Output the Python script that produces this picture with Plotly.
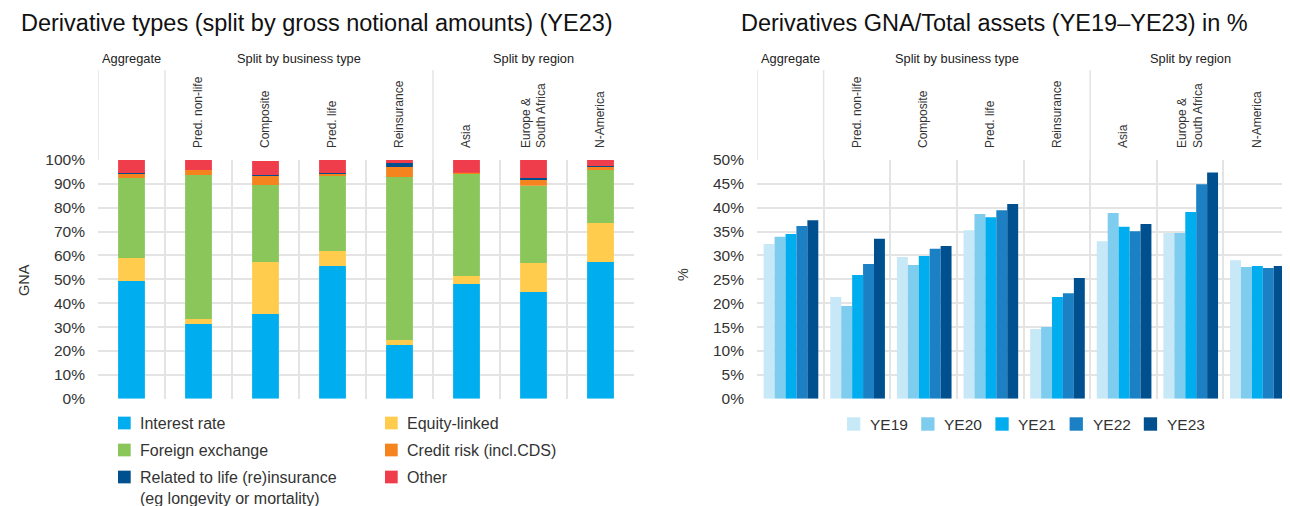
import plotly.graph_objects as go

# page body has an 8px margin: figure is placed at (8, 8) in the screenshot
OFF = 8
W, H = 1290 - OFF, 506 - OFF

# ---------------- data ----------------
categories = ["Aggregate", "Pred. non-life", "Composite", "Pred. life", "Reinsurance",
              "Asia", "Europe & South Africa", "N-America"]
tick_labels = ["", "Pred. non-life", "Composite", "Pred. life", "Reinsurance",
               "Asia", "Europe &<br>South Africa", "N-America"]

# Left chart: split of gross notional amounts (% of total), YE23
interest_rate = [49.3, 31.3, 35.5, 55.6, 22.5, 48.0, 44.7, 57.3]
equity_linked = [9.6, 2.1, 21.8, 6.3, 2.1, 3.4, 12.2, 16.3]
foreign_exchange = [33.6, 60.3, 32.2, 31.8, 68.3, 43.0, 32.3, 22.2]
credit_risk = [1.8, 2.1, 3.8, 0.6, 4.2, 0.3, 2.8, 1.3]
life_related = [0.3, 0.0, 0.4, 0.3, 1.6, 0.0, 0.5, 0.4]
other = [5.4, 4.2, 5.9, 5.4, 1.3, 5.3, 7.5, 2.5]

left_series_names = ["Interest rate", "Equity-linked", "Foreign exchange",
                     "Credit risk (incl.CDS)",
                     "Related to life (re)insurance<br>(eg longevity or mortality)",
                     "Other"]
left_series_values = [interest_rate, equity_linked, foreign_exchange, credit_risk,
                      life_related, other]
left_colors = ["#00AEEF", "#FFCC4E", "#8BC65B", "#F5841F", "#00508F", "#EF3D4B"]

# Right chart: derivatives GNA / total assets (%)
years = ["YE19", "YE20", "YE21", "YE22", "YE23"]
ye19 = [32.4, 21.3, 29.7, 35.3, 14.6, 33.0, 34.7, 29.0]
ye20 = [33.9, 19.4, 28.0, 38.7, 15.0, 38.9, 34.7, 27.6]
ye21 = [34.5, 25.9, 29.9, 38.0, 21.3, 36.0, 39.1, 27.8]
ye22 = [36.2, 28.2, 31.4, 39.5, 22.1, 35.1, 44.9, 27.4]
ye23 = [37.4, 33.5, 32.0, 40.8, 25.3, 36.6, 47.4, 27.8]
right_series_values = [ye19, ye20, ye21, ye22, ye23]
right_colors = ["#C6E8F7", "#7FCDEE", "#00AEEF", "#1B80C4", "#00508F"]

left_ticks = [0, 10, 20, 30, 40, 50, 60, 70, 80, 90, 100]
right_ticks = [0, 5, 10, 15, 20, 25, 30, 35, 40, 45, 50]

FONT = "Liberation Sans, Arial, Helvetica, sans-serif"
TXT = "#333333"
GRID = "#E4E4E4"


def px(x):
    """screen x (pixels) -> paper fraction"""
    return (x - OFF) / W


def py(y):
    """screen y (pixels) -> paper fraction"""
    return 1 - (y - OFF) / H


fig = go.Figure()

# left stacked bars (manual stacking via base)
base = [0.0] * len(categories)
for name, vals, col in zip(left_series_names, left_series_values, left_colors):
    fig.add_trace(go.Bar(x=categories, y=vals, base=list(base), name=name,
                         marker=dict(color=col, line=dict(width=0)),
                         width=0.40, xaxis="x", yaxis="y", showlegend=False))
    base = [b + v for b, v in zip(base, vals)]

# right grouped bars
bw = 0.164
for i, (name, vals, col) in enumerate(zip(years, right_series_values, right_colors)):
    fig.add_trace(go.Bar(x=categories, y=vals, name=name,
                         marker=dict(color=col, line=dict(width=0)),
                         width=bw, offset=-0.40 + i * bw,
                         xaxis="x2", yaxis="y2", showlegend=False))

plot_top, plot_bot = 160, 398.7
header_top = 70

xaxis_common = dict(type="category", categoryorder="array", categoryarray=categories,
                    tickmode="array", tickvals=categories, ticktext=tick_labels,
                    side="top", tickangle=-90, tickson="boundaries", ticks="",
                    showgrid=True, gridcolor=GRID, gridwidth=1.5, showline=False,
                    zeroline=False, tickfont=dict(family=FONT, size=12, color=TXT),
                    ticklabelstandoff=11, range=[-0.5, 7.5], fixedrange=True,
                    automargin=False)
yaxis_common = dict(showgrid=True, gridcolor=GRID, gridwidth=1.5, zeroline=False,
                    ticks="", ticklabelstandoff=12, automargin=False, fixedrange=True,
                    tickfont=dict(family=FONT, size=15.5, color=TXT))

fig.update_layout(
    width=W, height=H, margin=dict(l=0, r=0, t=0, b=0, pad=0, autoexpand=False),
    paper_bgcolor="white", plot_bgcolor="white", barmode="overlay",
    font=dict(family=FONT, color=TXT),
    xaxis=dict(domain=[px(98), px(634)], anchor="y", **xaxis_common),
    yaxis=dict(domain=[py(plot_bot), py(plot_top)], range=[0, 100], tickvals=left_ticks,
               ticktext=[f"{t}%" for t in left_ticks], anchor="x", **yaxis_common),
    xaxis2=dict(domain=[px(757), 1.0], anchor="y2", **xaxis_common),
    yaxis2=dict(domain=[py(plot_bot), py(plot_top)], range=[0, 50], tickvals=right_ticks,
                ticktext=[f"{t}%" for t in right_ticks], anchor="x2", **yaxis_common),
)

shapes = []
annotations = []

# header separator lines and group labels
for xref in ["x", "x2"]:
    for xv in [-0.5, 0.5, 4.5]:
        shapes.append(dict(type="line", xref=xref, yref="paper", x0=xv, x1=xv,
                           y0=py(plot_top), y1=py(header_top),
                           line=dict(color=GRID, width=1.5)))
    for label, xv in [("Aggregate", 0), ("Split by business type", 2.5),
                      ("Split by region", 6)]:
        annotations.append(dict(text=label, xref=xref, yref="paper", x=xv, y=py(58),
                                showarrow=False,
                                font=dict(family=FONT, size=12.8, color="#222"),
                                xanchor="center", yanchor="middle"))

# titles
annotations.append(dict(text="Derivative types (split by gross notional amounts) (YE23)",
                        xref="paper", yref="paper", x=px(19), y=py(23), xanchor="left",
                        yanchor="middle", showarrow=False,
                        font=dict(family=FONT, size=23.5, color="#111111")))
annotations.append(dict(text="Derivatives GNA/Total assets (YE19–YE23) in %",
                        xref="paper", yref="paper", x=px(739), y=py(23), xanchor="left",
                        yanchor="middle", showarrow=False,
                        font=dict(family=FONT, size=23.5, color="#111111")))

# axis titles
annotations.append(dict(text="GNA", xref="paper", yref="paper", x=px(14), y=py(280),
                        textangle=-90, showarrow=False,
                        font=dict(family=FONT, size=14.5, color=TXT)))
annotations.append(dict(text="%", xref="paper", yref="paper", x=px(683), y=py(275),
                        textangle=-90, showarrow=False,
                        font=dict(family=FONT, size=14.5, color=TXT)))

# left legend (two columns)
SQ = 12.7
left_legend_pos = [(118, 423), (385, 423), (118, 450), (385, 450), (118, 477), (385, 477)]
for (lx, ly), name, col in zip(left_legend_pos, left_series_names, left_colors):
    shapes.append(dict(type="rect", xref="paper", yref="paper",
                       x0=px(lx), x1=px(lx + SQ), y0=py(ly + SQ / 2), y1=py(ly - SQ / 2),
                       fillcolor=col, line=dict(width=0)))
    multi = "<br>" in name
    annotations.append(dict(text=name, xref="paper", yref="paper", x=px(lx + 20),
                            y=py(ly - 10) if multi else py(ly), xanchor="left",
                            yanchor="top" if multi else "middle", align="left",
                            showarrow=False, font=dict(family=FONT, size=16, color=TXT)))

# right legend (one row)
for i, (name, col) in enumerate(zip(years, right_colors)):
    lx = 847 + i * 74.2
    ly = 424
    shapes.append(dict(type="rect", xref="paper", yref="paper",
                       x0=px(lx), x1=px(lx + 13.3), y0=py(ly + 6.7), y1=py(ly - 6.7),
                       fillcolor=col, line=dict(width=0)))
    annotations.append(dict(text=name, xref="paper", yref="paper", x=px(lx + 21), y=py(ly),
                            xanchor="left", yanchor="middle", showarrow=False,
                            font=dict(family=FONT, size=15.5, color=TXT)))

fig.update_layout(shapes=shapes, annotations=annotations)

fig.write_html("out.html")
